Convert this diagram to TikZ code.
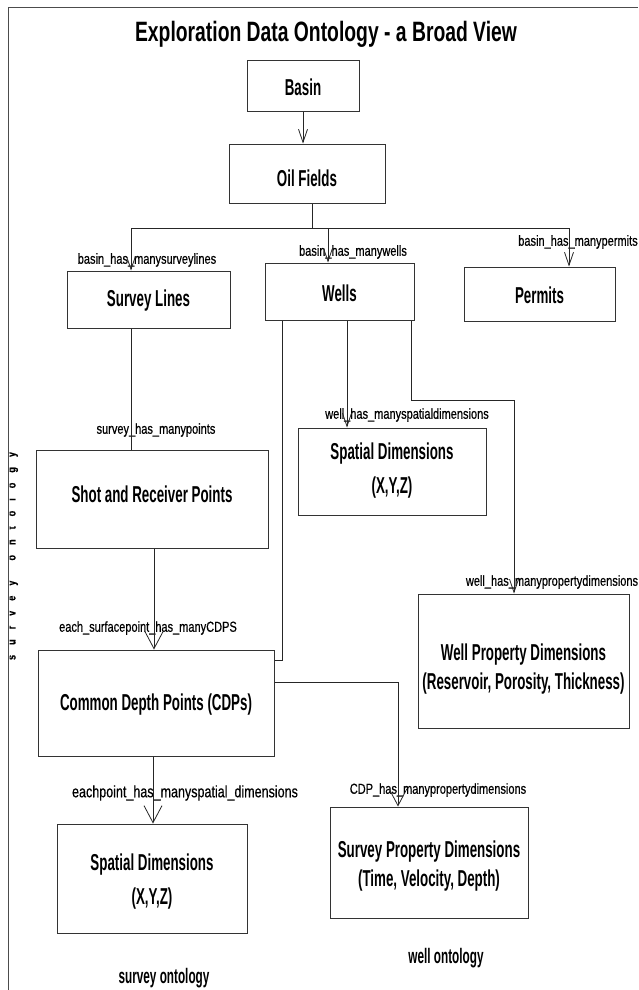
\documentclass[tikz,border=0pt]{standalone}
\usepackage{fontspec}
\setmainfont{Liberation Sans}
% condensed faces for the different kinds of text
\newfontfamily\titlef{Liberation Sans}[FakeStretch=0.69]
\newfontfamily\boxf{Liberation Sans}[FakeStretch=0.58]
\newfontfamily\lblf{Liberation Sans}[FakeStretch=0.76, FakeBold=0.5]
\newfontfamily\ontf{Liberation Sans}[FakeStretch=0.56]
\usetikzlibrary{arrows.meta}

\begin{document}
\begin{tikzpicture}[x=1pt,y=-1pt,
  box/.style={draw=black!80, line width=1pt, inner sep=0pt},
  boxtxt/.style={inner sep=0pt, align=center,
    font=\boxf\bfseries\fontsize{23}{29}\selectfont},
  boxtxttall/.style={boxtxt, font=\boxf\bfseries\fontsize{23}{34}\selectfont},
  lbl/.style={inner sep=0pt, font=\lblf\fontsize{14.5}{16}\selectfont},
  lblbig/.style={inner sep=0pt, font=\lblf\fontsize{16.5}{18}\selectfont},
  ont/.style={inner sep=0pt, font=\ontf\bfseries\fontsize{21}{22}\selectfont},
  conn/.style={draw=black!85, line width=0.8pt},
  arr/.style={conn, -{Straight Barb[length=13pt,width=9pt]}},
  bigarr/.style={conn, -{Straight Barb[length=17pt,width=18pt]}},
]
\useasboundingbox (0,0) rectangle (638,990);

% outer frame (top and left edges)
\draw[black!70, line width=1.5pt] (8.5,990) -- (8.5,7.5) -- (638,7.5);

% title
\node[anchor=base, inner sep=0pt, font=\titlef\bfseries\fontsize{28}{30}\selectfont]
  (title) at (326,42) {Exploration Data Ontology - a Broad View};

% entity boxes
\node[box, minimum width=112, minimum height=50]  (basin)   at (303,86)      {};
\node[box, minimum width=156, minimum height=59]  (oil)     at (307,173.5)   {};
\node[box, minimum width=163, minimum height=57]  (survey)  at (148.5,299.5) {};
\node[box, minimum width=149, minimum height=57]  (wells)   at (339.5,291.5) {};
\node[box, minimum width=151, minimum height=54]  (permits) at (539.5,294)   {};
\node[box, minimum width=232, minimum height=98]  (shot)    at (152,499)     {};
\node[box, minimum width=188, minimum height=87]  (sdw)     at (392,471.5)   {};
\node[box, minimum width=211, minimum height=134] (wp)      at (523.5,661)   {};
\node[box, minimum width=236, minimum height=106] (cdp)     at (156,703)     {};
\node[box, minimum width=198, minimum height=111] (svp)     at (429,862.5)   {};
\node[box, minimum width=190, minimum height=109] (sds)     at (152,878.5)   {};

% box captions
\node[boxtxt] (basint)   at (303,87)    {Basin};
\node[boxtxt] (oilt)     at (307,178)   {Oil Fields};
\node[boxtxt] (surveyt)  at (148.5,301) {Survey Lines};
\node[boxtxt] (wellst)   at (339.5,293) {Wells};
\node[boxtxt] (permitst) at (539.5,295) {Permits};
\node[boxtxt] (shott)    at (152,494)   {Shot and Receiver Points};
\node[boxtxttall] (sdwt) at (392,471)   {Spatial Dimensions\\(X,Y,Z)};
\node[boxtxt] (wpt)      at (523.5,669) {Well Property Dimensions\\(Reservoir, Porosity, Thickness)};
\node[boxtxt] (cdpt)     at (156,705)   {Common Depth Points (CDPs)};
\node[boxtxt] (svpt)     at (429,866.5) {Survey Property Dimensions\\(Time, Velocity, Depth)};
\node[boxtxttall] (sdst) at (152,881.5) {Spatial Dimensions\\(X,Y,Z)};

% relation labels
\node[lbl] (l1) at (147,260) {basin\_has\_manysurveylines};
\node[lbl] (l2) at (353,252) {basin\_has\_manywells};
\node[lbl] (l3) at (578,242) {basin\_has\_manypermits};
\node[lbl] (l4) at (156,430) {survey\_has\_manypoints};
\node[lbl] (l5) at (148,628) {each\_surfacepoint\_has\_manyCDPS};
\node[lbl] (l6) at (407,415) {well\_has\_manyspatialdimensions};
\node[lbl] (l7) at (552,582) {well\_has\_manypropertydimensions};
\node[lbl] (l8) at (438,790) {CDP\_has\_manypropertydimensions};
\node[lblbig] (l9) at (185,793) {eachpoint\_has\_manyspatial\_dimensions};

% ontology captions
\node[ont] (wellont)   at (446,958) {well ontology};
\node[ont] (surveyont) at (164,978) {survey ontology};
\begin{scope}
  \clip (9.6,420) rectangle (40,700);
  \node[rotate=90, anchor=base, inner sep=0pt, font=\lblf\bfseries\fontsize{12}{12}\selectfont]
    (sidecap) at (15.5,556)
    {\makebox[208pt][s]{s\hfil u\hfil r\hfil v\hfil e\hfil y\hfil\hfil o\hfil n\hfil t\hfil o\hfil l\hfil o\hfil g\hfil y}};
\end{scope}

% connectors
\coordinate (j) at (312,228);
\draw[arr] (basin.south) -- (basin.south |- oil.north);
\draw[conn] (oil.south -| j) -- (j);
\draw[arr] (j) -| ([xshift=-17.5pt]survey.north);
\draw[arr] (j) -| ([xshift=-11.5pt]wells.north);
\draw[arr] (j) -| ([xshift=29.5pt]permits.north);

\draw[conn] ([xshift=-17.5pt]survey.south) -- ([xshift=-17.5pt]survey.south |- shot.north);
\draw[bigarr] ([xshift=2pt]shot.south) -- ([xshift=2pt]shot.south |- cdp.north);

\draw[conn] ([xshift=-57.5pt]wells.south) |- ([yshift=-11pt]cdp.north east);
\draw[arr] ([xshift=7.5pt]wells.south) -- ([xshift=7.5pt]wells.south |- sdw.north);
\coordinate (wbend) at (514,400);
\draw[arr] ([xshift=71.5pt]wells.south) |- (wbend) -- (wbend |- wp.north);

\draw[bigarr] ([yshift=-33pt]cdp.north east) -| ([xshift=-31pt]svp.north);
\draw[bigarr] ([xshift=-3pt]cdp.south) -- ([xshift=-3pt]cdp.south |- sds.north);
\end{tikzpicture}
\end{document}
